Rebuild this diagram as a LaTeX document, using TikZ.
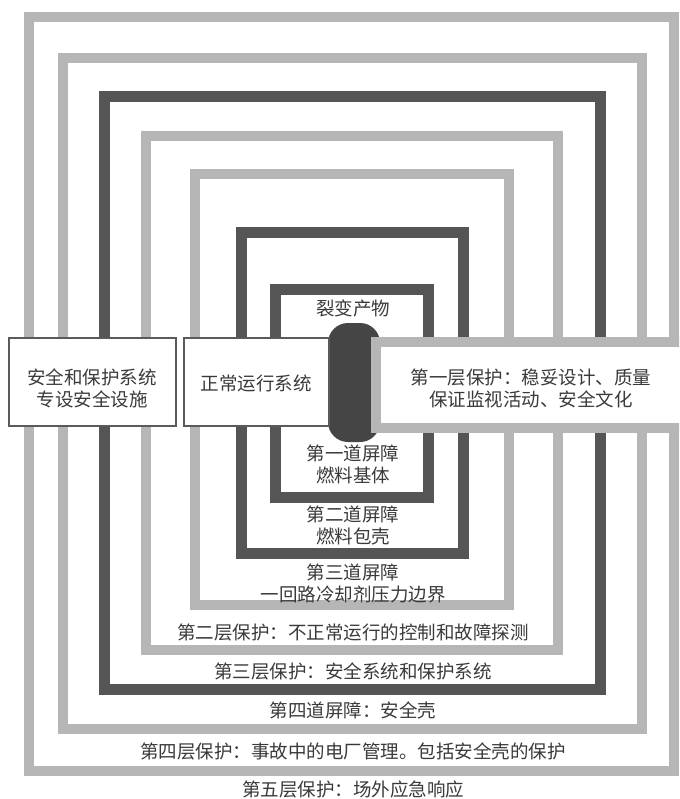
\documentclass[tikz,border=0pt]{standalone}
\usepackage{fontspec}
\setmainfont{Noto Sans CJK SC}
\definecolor{bandgray}{HTML}{B6B6B6}
\definecolor{banddark}{HTML}{555555}
\definecolor{pelletc}{HTML}{454545}
\definecolor{txt}{HTML}{3A3A3A}
\definecolor{boxedge}{HTML}{5A5A5A}
\begin{document}
\begin{tikzpicture}[x=1pt,y=-1pt,
  lightband/.style={draw=bandgray,line width=10pt},
  darkband/.style={draw=banddark,line width=11pt},
  lbl/.style={text=txt,font=\fontsize{18.5}{22}\selectfont,inner sep=0pt,align=center},
  whitebox/.style={draw=boxedge,line width=1.5pt,fill=white},
  graybox/.style={draw=bandgray,line width=10pt,fill=white},
  pellet/.style={fill=pelletc,rounded corners=20pt}]
\useasboundingbox (0,0) rectangle (679,799);
\clip (0,0) rectangle (679,799);
\fill[white] (0,0) rectangle (679,799);
% frames, outside in
\draw[lightband] (29,17) rectangle (674,771);
\draw[lightband] (63,58) rectangle (642,729);
\draw[darkband] (104.5,97) rectangle (600,689);
\draw[lightband] (146,136) rectangle (558,650);
\draw[lightband] (195,174) rectangle (509,605);
\draw[darkband] (241.5,232.5) rectangle (463,553.5);
\draw[darkband] (275.5,289.5) rectangle (428.5,497.5);
% fuel pellet
\fill[pellet] (328,323) rectangle (380,442);
% boxes
\draw[whitebox] (9,338) rectangle (176,426);
\draw[whitebox] (184,338) rectangle (329,426);
\draw[graybox] (376,342) rectangle (720,428);
% labels
\node[lbl] (fp) at (353,308) {裂变产物};
\node[lbl] (safety) at (92,388) {安全和保护系统\\专设安全设施};
\node[lbl] (normal) at (256,383) {正常运行系统};
\node[lbl] (l1) at (531,388) {第一层保护：稳妥设计、质量\\保证监视活动、安全文化};
\node[lbl] (b1) at (353,464) {第一道屏障\\燃料基体};
\node[lbl] (b2) at (353,525.5) {第二道屏障\\燃料包壳};
\node[lbl] (b3) at (353,583) {第三道屏障\\一回路冷却剂压力边界};
\node[lbl] (l2) at (353,632) {第二层保护：不正常运行的控制和故障探测};
\node[lbl] (l3) at (353,671) {第三层保护：安全系统和保护系统};
\node[lbl] (b4) at (353,710) {第四道屏障：安全壳};
\node[lbl] (l4) at (353,751) {第四层保护：事故中的电厂管理。包括安全壳的保护};
\node[lbl] (l5) at (353,789) {第五层保护：场外应急响应};
\end{tikzpicture}
\end{document}
